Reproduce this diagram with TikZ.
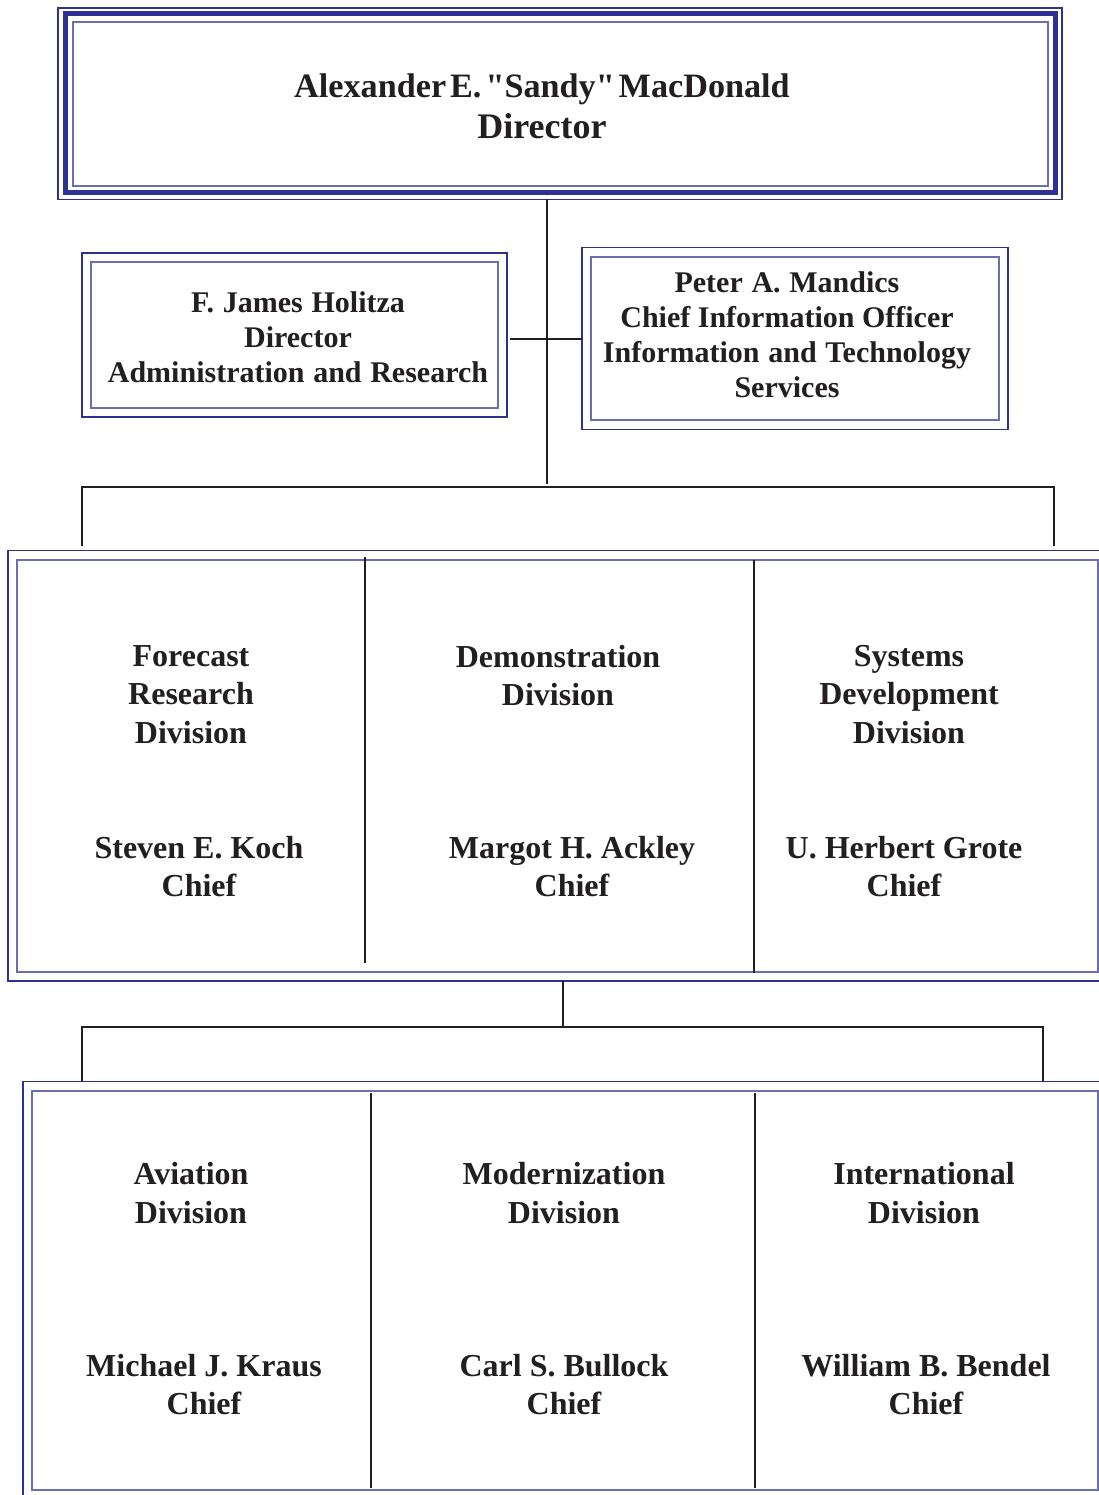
\documentclass[tikz,border=0pt]{standalone}
\usepackage{fontspec}
\setmainfont{Liberation Serif}
\definecolor{frameout}{HTML}{2E3192}
\definecolor{framein}{HTML}{6C6EB4}
\definecolor{ink}{HTML}{231F20}
\newcommand{\wsp}{\hspace{0.04em}\ }
\begin{document}
\begin{tikzpicture}[x=1pt,y=-1pt,
  outerframe/.style={draw=frameout, line width=1.4pt},
  innerframe/.style={draw=framein, line width=1.8pt, inner sep=0pt},
  band/.style={draw=frameout, line width=5pt},
  link/.style={draw=ink, line width=1.3pt},
  bigtext/.style={text=ink, align=center, inner sep=0pt, font=\fontsize{34.2}{41}\selectfont\bfseries},
  sidetext/.style={text=ink, align=center, inner sep=0pt, font=\fontsize{30}{35}\selectfont\bfseries},
  divtext/.style={text=ink, align=center, inner sep=0pt, font=\fontsize{32}{38.5}\selectfont\bfseries},
  namedtext/.style={text=ink, align=center, inner sep=0pt, font=\fontsize{32}{38}\selectfont\bfseries}]
\useasboundingbox (0,0) rectangle (1099,1495);
\fill[white] (0,0) rectangle (1099,1495);

% ---- Director ----
\node[innerframe, minimum width=975pt, minimum height=164pt] (dirbox) at (560.5,104) {};
\draw[band] (65.5,13.5) rectangle (1055.5,192.5);
\draw[outerframe] (58,8) rectangle (1062,199.5);
\node[bigtext] (dirname) at (542,106) {Alexander\hspace{4pt}E.\hspace{4pt}\textquotedbl Sandy\textquotedbl\hspace{4pt}MacDonald\\{\fontsize{36}{41}\selectfont Director}};

% ---- Staff offices ----
\node[innerframe, minimum width=407pt, minimum height=146pt] (admbox) at (294.5,335) {};
\draw[outerframe] (82,253) rectangle (507,417);
\node[sidetext] (admtext) at (298,337) {F.\wsp James\wsp Holitza\\Director\\Administration\wsp and\wsp Research};

\node[innerframe, minimum width=408pt, minimum height=163pt] (itbox) at (795,338.5) {};
\draw[outerframe] (582,247.5) rectangle (1008,429.5);
\node[sidetext] (ittext) at (787,335) {Peter\wsp A.\wsp Mandics\\Chief Information Officer\\Information\wsp and\wsp Technology\\Services};

% ---- Connectors below the director ----
\coordinate (trunktop) at (547,199.5);
\coordinate (trunkbot) at (547,484);
\coordinate (staffL) at (510,339);
\coordinate (staffR) at (582,339);
\coordinate (barL) at (82,487);
\coordinate (barR) at (1054,487);
\coordinate (dropL) at (82,546);
\coordinate (dropR) at (1054,546);
\draw[link] (trunktop) -- (trunkbot);
\draw[link] (staffL) -- (staffR);
\draw[link] (dropL) -- (barL) -- (barR) -- (dropR);

% ---- First row of divisions ----
\draw[outerframe] (8,550.5) rectangle (1120,981);
\draw[innerframe] (17,560) rectangle (1098,972);
\coordinate (sepA1) at (365,557);
\coordinate (sepA2) at (365,963);
\coordinate (sepB1) at (754,560);
\coordinate (sepB2) at (754,973);
\draw[link] (sepA1) -- (sepA2);
\draw[link] (sepB1) -- (sepB2);

\node[divtext] (frd) at (191,694.5) {Forecast\\Research\\Division};
\node[namedtext] (frdchief) at (199,867) {Steven E. Koch\\Chief};
\node[divtext] (dd) at (558,675.5) {Demonstration\\Division};
\node[namedtext] (ddchief) at (572,867) {Margot H. Ackley\\Chief};
\node[divtext] (sdd) at (909,694.5) {Systems\\Development\\Division};
\node[namedtext] (sddchief) at (904,867) {U. Herbert Grote\\Chief};

% ---- Link to second row ----
\coordinate (midtop) at (563,981);
\coordinate (midbar) at (563,1027);
\coordinate (bar2L) at (82,1027);
\coordinate (bar2R) at (1043,1027);
\coordinate (drop2L) at (82,1081);
\coordinate (drop2R) at (1043,1081);
\draw[link] (midtop) -- (midbar);
\draw[link] (drop2L) -- (bar2L) -- (bar2R) -- (drop2R);

% ---- Second row of divisions ----
\draw[outerframe] (23,1081.5) rectangle (1120,1520);
\draw[innerframe] (32,1091) rectangle (1098,1490);
\coordinate (sepC1) at (371,1093);
\coordinate (sepC2) at (371,1488);
\coordinate (sepD1) at (755,1093);
\coordinate (sepD2) at (755,1488);
\draw[link] (sepC1) -- (sepC2);
\draw[link] (sepD1) -- (sepD2);

\node[divtext] (avd) at (191,1193) {Aviation\\Division};
\node[namedtext] (avdchief) at (204,1385) {Michael J. Kraus\\Chief};
\node[divtext] (mod) at (564,1193) {Modernization\\Division};
\node[namedtext] (modchief) at (564,1385) {Carl S. Bullock\\Chief};
\node[divtext] (intd) at (924,1193) {International\\Division};
\node[namedtext] (intdchief) at (926,1385) {William B. Bendel\\Chief};
\end{tikzpicture}
\end{document}
